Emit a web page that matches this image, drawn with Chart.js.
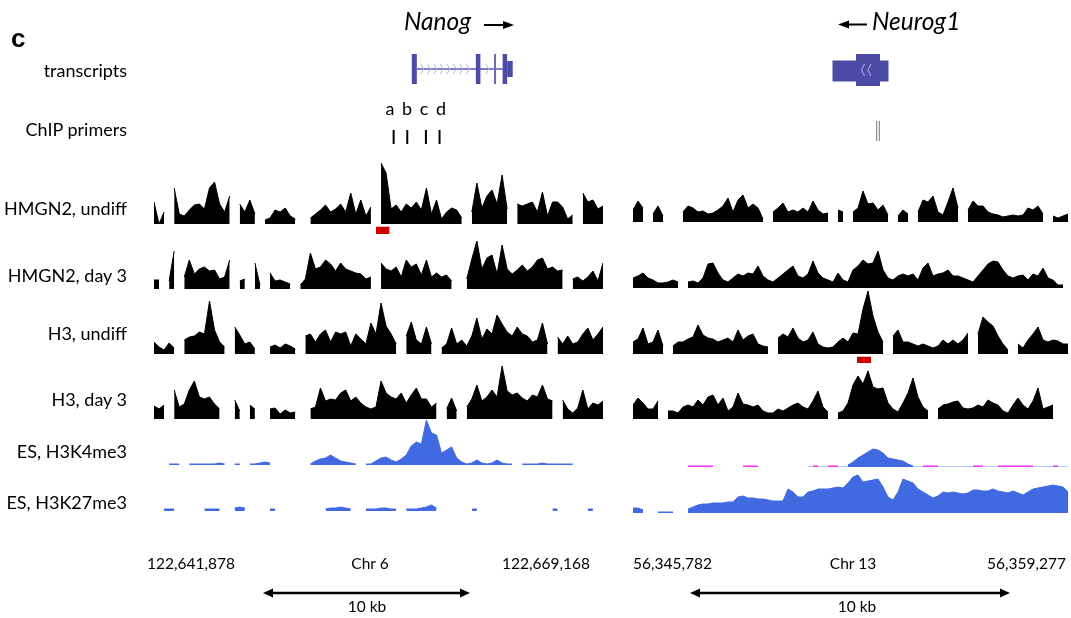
<!DOCTYPE html>
<html>
<head>
<meta charset="utf-8">
<script src="https://cdn.jsdelivr.net/npm/chart.js@4.4.1/dist/chart.umd.min.js"></script>
<style>
html,body{margin:0;padding:0;background:#fff;}
#page{position:relative;width:1071px;height:618px;overflow:hidden;font-family:Lato,"Open Sans",sans-serif;color:#000;}
.t{position:absolute;white-space:nowrap;}
.lbl{font-size:18px;line-height:20px;text-align:right;right:944px;}
.coord{font-size:15.5px;line-height:18px;}
canvas{position:absolute;top:0;}
svg{position:absolute;left:0;top:0;}
</style>
</head>
<body>
<div id="page">
<canvas id="cl" width="475" height="540" style="left:140px"></canvas>
<canvas id="cr" width="451" height="540" style="left:620px"></canvas>
<svg width="1071" height="618">
  <line x1="484" y1="25" x2="506" y2="25" stroke="#000" stroke-width="2"/>
  <polygon points="503,21 514,25 503,29" fill="#000"/>
  <line x1="847" y1="24.5" x2="867" y2="24.5" stroke="#000" stroke-width="2"/>
  <polygon points="849,20.5 838,24.5 849,28.5" fill="#000"/>
  <line x1="270" y1="593" x2="463" y2="593" stroke="#000" stroke-width="2.5"/>
  <polygon points="263,593 273,588.5 273,597.5" fill="#000"/>
  <polygon points="470,593 460,588.5 460,597.5" fill="#000"/>
  <line x1="697" y1="593" x2="1003" y2="593" stroke="#000" stroke-width="2.5"/>
  <polygon points="690,593 700,588.5 700,597.5" fill="#000"/>
  <polygon points="1010,593 1000,588.5 1000,597.5" fill="#000"/>
</svg>
</div>
<script>
const _ = null;
// ---------- text data ----------
const panelLetter = 'c';
const trackNames = ['HMGN2, undiff','HMGN2, day 3','H3, undiff','H3, day 3','ES, H3K4me3','ES, H3K27me3'];
const rowNames = ['transcripts','ChIP primers'];
const geneNames = ['Nanog','Neurog1'];
const primerLetters = ['a','b','c','d'];
const leftTicks = ['122,641,878','Chr 6','122,669,168'];
const rightTicks = ['56,345,782','Chr 13','56,359,277'];
const scaleBarLabel = '10 kb';

// ---------- left panel (Nanog, Chr 6), 90 bins ----------
const L_HMGN2_undiff = [22,0,12,_,36,10,8,14,19,20, 15,36,42,20,12,28,_,20,12,24, 10,_,4,6,14,12,16,8,5,_, _,6,10,14,19,12,15,20,12,31, 10,24,8,17,_,61,51,15,19,12, 20,16,22,14,36,10,24,5,12,16, 14,6,_,12,41,16,28,34,20,49, 15,_,20,18,20,22,12,32,8,22, 22,17,5,9,_,31,22,24,15,18];
const L_HMGN2_day3 = [9,9,_,8,38,_,12,29,15,20, 22,18,19,10,12,29,_,8,10,_, 26,4,_,16,8,9,7,5,_,4, 10,36,20,22,29,25,18,26,20,18, 16,15,10,12,_,26,20,18,22,12, 29,22,25,14,29,12,16,12,14,8, _,_,10,30,48,20,31,34,15,44, 20,15,19,24,18,22,29,31,20,22, 18,19,_,10,12,8,12,18,8,26];
const L_H3_undiff = [12,7,4,11,6,_,14,17,18,22, 20,53,24,12,7,_,27,19,10,12, 5,_,_,7,9,6,10,8,5,_, 18,20,12,20,24,12,22,20,22,8, 20,15,10,31,20,51,28,20,10,_, 18,32,14,10,27,10,_,6,10,26, 10,14,8,18,36,15,25,20,39,30, 22,18,27,20,18,12,14,31,10,_, 17,10,18,10,12,20,26,14,20,27];
const L_H3_day3 = [13,10,14,_,29,12,15,29,38,22, 20,22,15,10,_,_,19,8,_,14, 10,_,_,10,11,5,9,6,7,_, _,10,12,31,18,20,19,26,29,18, 22,16,12,10,12,38,26,22,20,26, 16,24,31,20,20,12,16,_,10,21, 8,_,12,20,34,18,22,29,22,53, 28,24,26,21,18,24,22,34,20,18, _,19,10,6,11,29,10,16,14,18];
const L_K4me3 = [_,_,_,1,1,1,_,1,1,1, 1,1,1,2,1,_,1,1,_,1, 1,2,3,2,_,_,_,_,_,_, _,1,4,6,7,10,7,4,3,2, 1,_,1,1,4,7,8,5,3,6, 10,19,23,21,45,32,30,12,15,18, 7,3,1,2,5,2,1,2,5,2, 1,1,_,1,1,1,1,2,1,1, 1,1,1,1,_,_,_,_,_,_];
const L_K27me3 = [_,_,2,2,2,_,_,_,_,_, 2,2,2,2,_,_,3,4,3,_, _,_,_,2,2,_,_,_,_,_, _,_,_,_,2,3,3,4,3,2, _,_,2,2,2,3,3,2,2,_, 2,2,2,3,4,6,3,_,_,_, _,_,_,2,2,_,_,_,_,_, _,_,_,_,_,_,_,_,_,2, 2,_,_,_,_,_,2,2,_,_];
const L_redMark = [44.0, 46.7];               // bin range of the red bar under HMGN2 undiff
const nanogExons = [[51.1,52.1,'tall'],[63.8,64.7,'tall'],[67.4,67.8,'thin'],[69.1,70.0,'tall'],[70.0,71.1,'short']];
const nanogIntron = [52.1, 69.1];
const nanogPrimers = [47.5, 50.2, 53.9, 56.6];

// ---------- right panel (Neurog1, Chr 13), 88 bins ----------
const R_HMGN2_undiff = [12,21,14,_,8,16,6,_,_,_, 10,16,14,10,11,8,9,12,16,24, 10,22,27,14,18,14,3,_,10,14, 19,10,12,10,14,10,21,12,8,9, _,12,10,_,10,14,31,18,19,12, 17,7,_,6,12,8,_,10,22,20, 26,10,7,20,34,14,_,12,21,16, 16,10,8,7,5,6,7,6,7,14, 12,16,8,_,6,4,6,8];
const R_HMGN2_day3 = [10,12,15,10,8,5,5,6,8,6, _,6,7,5,10,24,25,15,8,6, 10,14,12,15,14,22,12,8,6,10, 14,18,22,12,10,14,27,15,10,8, 6,15,8,6,18,22,28,24,25,37, 18,10,8,12,14,12,14,8,20,25, 12,14,15,18,12,12,10,8,6,12, 18,24,27,26,18,12,10,12,13,8, 14,12,20,10,8,3,3,_];
const R_H3_undiff = [12,15,26,10,12,24,8,_,8,12, 12,15,17,29,19,16,15,12,14,16, 12,24,14,18,20,10,8,7,_,16, 20,17,26,16,12,14,22,10,7,6, 7,12,16,12,21,20,45,63,38,22, 12,_,18,24,12,12,10,8,10,8, 6,8,14,10,14,10,14,21,_,20, 37,32,28,18,10,4,_,10,6,14, 20,27,14,12,14,13,10,10];
const R_H3_day3 = [14,21,16,10,10,18,_,8,8,6, 12,14,12,19,14,22,24,14,21,8, 12,26,15,14,12,14,8,6,6,10, 8,11,14,16,12,10,18,28,12,7, _,6,8,16,34,43,35,48,32,30, 31,16,10,7,16,26,41,22,12,8, _,10,14,15,17,18,11,10,11,14, 12,19,16,14,8,6,14,21,14,10, 18,31,10,12,14,_,_,_];
const R_K4me3 = [_,_,_,_,_,_,_,_,_,_, _,_,_,_,_,_,_,_,_,_, _,_,_,_,_,_,_,_,_,_, _,_,_,_,_,_,_,_,_,_, _,_,_,2,5,9,12,15,18,17, 14,9,8,7,6,3,1,_,_,_, _,_,_,_,_,_,_,_,_,_, _,_,_,_,_,_,_,_,_,_, _,_,_,_,_,_,_,_];
const R_K4me3_low = [_,_,_,_,_,_,_,_,_,_, _,1,1,1,1,1,1,_,_,_, _,_,1,1,1,1,_,_,_,_, _,_,_,_,_,_,1,1,_,1, 1,1,_,_,_,_,_,_,_,_, _,_,_,_,_,_,_,_,1,1, 1,1,_,_,_,_,_,_,1,1, 1,_,_,1,1,1,1,1,1,1, 1,_,_,_,1,1,_,_];
const R_K4me3_base = [_,_,_,_,_,_,_,_,_,_, _,_,_,_,_,_,_,_,_,_, _,_,_,_,_,_,_,_,_,_, _,_,_,_,_,0.5,0.5,0.5,0.5,0.5, 0.5,0.5,0.5,0.5,0.5,0.5,0.5,0.5,0.5,0.5, 0.5,0.5,0.5,0.5,0.5,0.5,0.5,0.5,0.5,0.5, 0.5,0.5,0.5,0.5,0.5,0.5,0.5,0.5,0.5,0.5, 0.5,0.5,0.5,0.5,0.5,0.5,0.5,0.5,0.5,0.5, 0.5,0.5,0.5,0.5,0.5,0.5,0.5,0.5];
const R_K27me3 = [5,5,3,_,_,1,1,1,1,_, _,4,6,8,9,9,10,10,10,11, 11,16,17,15,15,14,14,13,12,12, 12,24,21,16,16,21,22,24,24,24, 25,26,25,30,36,38,31,32,33,34, 26,16,13,21,34,32,30,24,21,18, 15,17,21,20,21,20,19,20,23,23, 22,22,24,22,21,20,22,20,18,21, 24,25,26,27,28,27,26,21];
const R_redMark = [44.8, 47.6];              // bin range of the red bar under H3 undiff
const neurogExons = [[39.9,44.6,'short'],[44.6,49.4,'tall'],[49.4,51.1,'short']];
const neurogPrimers = [49.0];

// ---------- styles / layout ----------
const BLACK = '#000000', BLUE = '#4169e1', MAGENTA = '#ff2bff', RED = '#d00000';
const trackColors = [BLACK, BLACK, BLACK, BLACK, BLUE, BLUE];
const AREA_TOP = 158, AREA_BOTTOM = 520;
const leftBaselines = [224, 289, 354, 419, 465, 511];
const rightBaselines = [222, 288, 354, 419, 467, 513];
const labelMid = [208.5, 275, 333, 399, 451.5, 502.5];
const primerLetterX = [390, 407, 424, 441];

// ---------- text in HTML ----------
const page = document.getElementById('page');
function addText(txt, css, cls) {
  const d = document.createElement('div');
  d.className = 't ' + (cls || '');
  d.textContent = txt;
  Object.assign(d.style, css);
  page.appendChild(d);
  return d;
}
addText(panelLetter, {left:'11px', top:'25px', font:'bold 26px "Liberation Sans", Arial, sans-serif', lineHeight:'26px'});
addText(geneNames[0], {left:'404px', top:'9px', fontSize:'24.5px', lineHeight:'24px', fontStyle:'italic'});
addText(geneNames[1], {left:'872px', top:'9px', fontSize:'24.5px', lineHeight:'24px', fontStyle:'italic'});
addText(rowNames[0], {top:'60px'}, 'lbl');
addText(rowNames[1], {top:'118.5px'}, 'lbl');
trackNames.forEach((n, k) => addText(n, {top:(labelMid[k] - 10.5) + 'px'}, 'lbl'));
primerLetters.forEach((ch, i) => addText(ch, {left: primerLetterX[i] + 'px', top:'98px', fontSize:'18px', lineHeight:'20px', transform:'translateX(-50%)'}));
addText(leftTicks[0], {left:'147px', top:'554px'}, 'coord');
addText(leftTicks[1], {left:'370px', top:'554px', transform:'translateX(-50%)'}, 'coord');
addText(leftTicks[2], {left:'502px', top:'554px'}, 'coord');
addText(rightTicks[0], {left:'633px', top:'554px'}, 'coord');
addText(rightTicks[1], {left:'853px', top:'554px', transform:'translateX(-50%)'}, 'coord');
addText(rightTicks[2], {right:(1071-1066)+'px', top:'554px'}, 'coord');
addText(scaleBarLabel, {left:'367px', top:'597px', transform:'translateX(-50%)'}, 'coord');
addText(scaleBarLabel, {left:'857px', top:'597px', transform:'translateX(-50%)'}, 'coord');

// ---------- annotation plugin (gene models + primers) ----------
const annotPlugin = {
  id: 'annot',
  afterDraw(chart, args, o) {
    const ctx = chart.ctx, xs = chart.scales.x;
    const X = v => xs.getPixelForValue(v);
    ctx.save();
    if (o.intron) {
      ctx.strokeStyle = o.intronColor; ctx.lineWidth = 2;
      ctx.beginPath(); ctx.moveTo(X(o.intron[0]), o.midY); ctx.lineTo(X(o.intron[1]), o.midY); ctx.stroke();
      ctx.strokeStyle = o.chevColor; ctx.lineWidth = 1;
      for (let x = X(o.intron[0]) + 4; x < X(o.intron[1]) - 4; x += 6.5) {
        if (o.exons.some(e => x + 4 > X(e[0]) && x - 1 < X(e[1]))) continue;
        ctx.beginPath(); ctx.moveTo(x, o.midY - 5); ctx.lineTo(x + 3, o.midY); ctx.lineTo(x, o.midY + 5); ctx.stroke();
      }
    }
    o.exons.forEach(e => {
      const h = o.heights[e[2]];
      ctx.fillStyle = e[2] === 'thin' ? o.thinColor : o.exonColor;
      ctx.fillRect(X(e[0]), h[0], X(e[1]) - X(e[0]), h[1] - h[0]);
    });
    if (o.innerChev) {
      ctx.strokeStyle = o.chevColor; ctx.lineWidth = 1;
      o.innerChev.forEach(c => {
        const x = X(c);
        ctx.beginPath(); ctx.moveTo(x + 3, o.midY - 6); ctx.lineTo(x, o.midY); ctx.lineTo(x + 3, o.midY + 6); ctx.stroke();
      });
    }
    o.primers.forEach(p => {
      const x = X(p);
      ctx.strokeStyle = o.primerColor;
      if (o.primerDouble) {
        ctx.lineWidth = 1;
        [-1.3, 1.3].forEach(dx => { ctx.beginPath(); ctx.moveTo(x + dx, o.primerY[0]); ctx.lineTo(x + dx, o.primerY[1]); ctx.stroke(); });
      } else {
        ctx.lineWidth = 2;
        ctx.beginPath(); ctx.moveTo(x, o.primerY[0]); ctx.lineTo(x, o.primerY[1]); ctx.stroke();
      }
    });
    ctx.restore();
  }
};

function series(vals) { return vals.map((v, i) => ({x: i, y: v})); }
function trackDs(vals, k, color) {
  return {type:'line', data: series(vals), yAxisID: 'y' + k, backgroundColor: color, borderColor: color,
          borderWidth: 1, pointRadius: 0, fill: 'origin', tension: 0, spanGaps: false};
}
function markDs(range, k, y0, y1) {
  return {type:'line', data: [{x: range[0], y: y0}, {x: range[1], y: y0}], yAxisID: 'y' + k,
          backgroundColor: RED, borderColor: RED, borderWidth: 0.5, pointRadius: 0, fill: {value: y1}, tension: 0};
}

function makePanel(id, tracks, baselines, extras, annot, padding) {
  const n = tracks[0].length;
  const scales = {x: {type: 'linear', min: 0, max: n - 1, display: false}};
  baselines.forEach((b, k) => {
    scales['y' + k] = {type: 'linear', display: false, min: -(AREA_BOTTOM - b), max: b - AREA_TOP};
  });
  const datasets = [];
  extras.before.forEach(d => datasets.push(d));
  tracks.forEach((vals, k) => datasets.push(trackDs(vals, k, trackColors[k])));
  extras.after.forEach(d => datasets.push(d));
  return new Chart(document.getElementById(id), {
    type: 'line',
    data: {datasets},
    options: {
      responsive: false, animation: false, events: [],
      layout: {padding},
      scales,
      plugins: {legend: {display: false}, tooltip: {enabled: false}, annot}
    },
    plugins: [annotPlugin]
  });
}

const geneStyle = {exonColor: '#4c4ca6', thinColor: '#6a6ab8', intronColor: '#7d7dc8', chevColor: '#b4b4e6'};

makePanel('cl',
  [L_HMGN2_undiff, L_HMGN2_day3, L_H3_undiff, L_H3_day3, L_K4me3, L_K27me3],
  leftBaselines,
  {before: [markDs(L_redMark, 0, -3, -10)], after: []},
  Object.assign({}, geneStyle, {
    exons: nanogExons, intron: nanogIntron, midY: 69,
    heights: {tall: [54, 84], thin: [54, 84], short: [61, 77]},
    primers: nanogPrimers, primerY: [130, 144], primerColor: '#000', primerDouble: false
  }),
  {left: 14, right: 12, top: AREA_TOP, bottom: 540 - AREA_BOTTOM});

makePanel('cr',
  [R_HMGN2_undiff, R_HMGN2_day3, R_H3_undiff, R_H3_day3, R_K4me3, R_K27me3],
  rightBaselines,
  {before: [markDs(R_redMark, 2, -3, -9)],
   after: [trackDs(R_K4me3_low, 4, MAGENTA),
           {type:'line', data: series(R_K4me3_base), yAxisID: 'y4', borderColor: 'rgba(90,130,230,0.45)', borderWidth: 1, pointRadius: 0, fill: false, tension: 0}]},
  Object.assign({}, geneStyle, {
    exons: neurogExons, intron: null, midY: 70, innerChev: [45.7, 47.0],
    heights: {tall: [54, 86], short: [60.5, 81.5]},
    primers: neurogPrimers, primerY: [121, 141], primerColor: '#777', primerDouble: true
  }),
  {left: 13, right: 3, top: AREA_TOP, bottom: 540 - AREA_BOTTOM});
</script>
</body>
</html>
